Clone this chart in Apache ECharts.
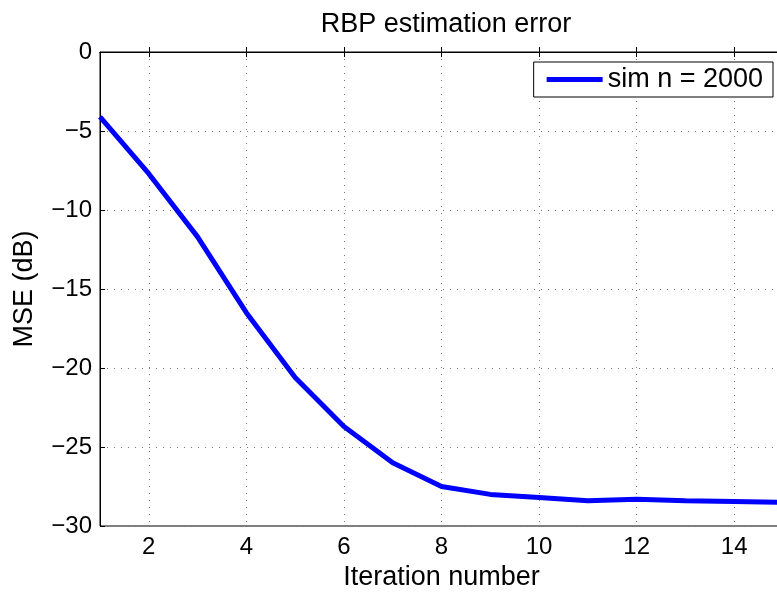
<!DOCTYPE html>
<html>
<head>
<meta charset="utf-8">
<script src="https://cdn.jsdelivr.net/npm/echarts@6/dist/echarts.min.js"></script>
<style>
html, body { margin: 0; padding: 0; background: #fff; }
#chart { width: 777px; height: 592px; }
</style>
</head>
<body>
<div id="chart"></div>
<script>
// iteration numbers 1..15
var iterations = ['1', '2', '3', '4', '5', '6', '7', '8', '9', '10', '11', '12', '13', '14', '15'];
// MSE in dB for sim n = 2000
var mseSim = [-4.1, -7.7, -11.7, -16.5, -20.6, -23.7, -26.0, -27.5, -28.0, -28.2, -28.4, -28.3, -28.4, -28.45, -28.5];

var font = 'Liberation Sans, Arial, Helvetica, sans-serif';

// only even iteration numbers get a tick, label and grid line
function evenOnly(index) {
	return (index + 1) % 2 === 0;
}

var chart = echarts.init(document.getElementById('chart'));

var option = {
	animation: false,
	title: {
		text: 'RBP estimation error',
		left: 441,
		textAlign: 'center',
		top: 6,
		textStyle: { fontFamily: font, fontSize: 27, fontWeight: 'normal', color: '#000' }
	},
	legend: {
		data: ['sim n = 2000'],
		right: 4,
		top: 62,
		padding: [4, 10, 4, 13],
		borderColor: '#000',
		borderWidth: 1,
		backgroundColor: '#fff',
		icon: 'rect',
		itemWidth: 56,
		itemHeight: 5,
		textStyle: { fontFamily: font, fontSize: 27, color: '#000' }
	},
	grid: {
		left: 100,
		top: 52,
		right: -6,
		bottom: 66,
		outerBoundsMode: 'none',
		containLabel: false,
		show: true,
		borderColor: '#000',
		borderWidth: 1,
		backgroundColor: 'transparent'
	},
	xAxis: [{
		type: 'category',
		data: iterations,
		boundaryGap: false,
		name: 'Iteration number',
		nameLocation: 'middle',
		nameGap: 29,
		nameTextStyle: { fontFamily: font, fontSize: 27, color: '#000' },
		axisLine: { lineStyle: { color: '#000', width: 1 } },
		axisTick: { inside: true, length: 5, interval: evenOnly, lineStyle: { color: '#000' } },
		axisLabel: { interval: evenOnly, margin: 9, fontFamily: font, fontSize: 24, color: '#000' },
		splitLine: { show: true, interval: evenOnly, lineStyle: { color: '#777', type: [1, 6], width: 1 } }
	}, {
		type: 'category',
		data: iterations,
		boundaryGap: false,
		position: 'top',
		axisLine: { lineStyle: { color: '#000', width: 1 } },
		axisTick: { inside: true, length: 5, interval: evenOnly, lineStyle: { color: '#000' } },
		axisLabel: { show: false },
		splitLine: { show: false }
	}],
	yAxis: {
		type: 'value',
		min: -30,
		max: 0,
		interval: 5,
		name: 'MSE (dB)',
		nameLocation: 'middle',
		nameGap: 62,
		nameTextStyle: { fontFamily: font, fontSize: 27, color: '#000' },
		axisLine: { show: true, lineStyle: { color: '#000', width: 1 } },
		axisTick: { show: true, inside: true, length: 5, lineStyle: { color: '#000' } },
		axisLabel: {
			margin: 8,
			fontFamily: font,
			fontSize: 24,
			color: '#000',
			formatter: function (v) { return String(v).replace('-', '\u2212'); }
		},
		splitLine: { show: true, lineStyle: { color: '#777', type: [1, 6], width: 1 } }
	},
	series: [{
		name: 'sim n = 2000',
		type: 'line',
		data: mseSim,
		symbol: 'none',
		color: '#0000ff',
		lineStyle: { color: '#0000ff', width: 5 }
	}]
};

chart.setOption(option);
</script>
</body>
</html>
